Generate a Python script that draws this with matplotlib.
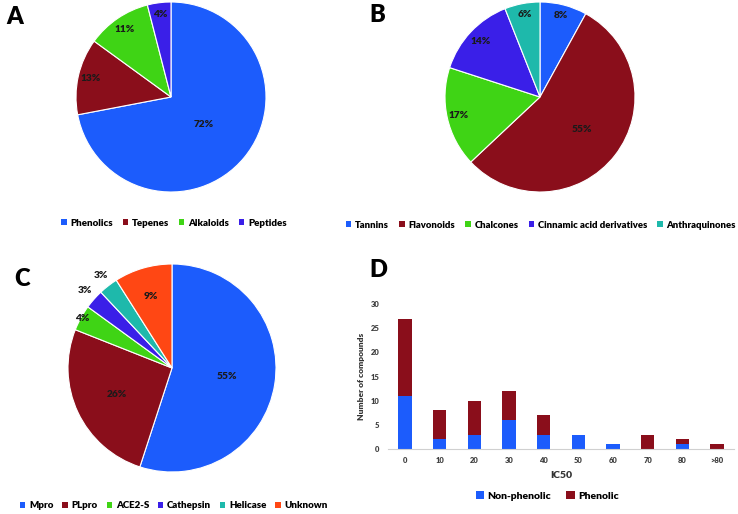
import numpy as np
import matplotlib.pyplot as plt
from matplotlib.patches import Patch

plt.rcParams['font.family'] = ['Lato', 'DejaVu Sans']
WT = 'heavy'

W, H = 738, 514

# colours
BLUE = '#1c5cfc'
RED = '#8a0e1b'
GREEN = '#3fd415'
PURPLE = '#3a1fe8'
TEAL = '#1eb9ab'
ORANGE = '#ff4714'

# panel A
a_labels = ['Phenolics', 'Tepenes', 'Alkaloids', 'Peptides']
a_values = [72, 13, 11, 4]
a_colors = [BLUE, RED, GREEN, PURPLE]
a_dist = [0.45, 0.87, 0.86, 0.88]

# panel B
b_labels = ['Tannins', 'Flavonoids', 'Chalcones', 'Cinnamic acid derivatives', 'Anthraquinones']
b_values = [8, 55, 17, 14, 6]
b_colors = [BLUE, RED, GREEN, PURPLE, TEAL]
b_dist = [0.89, 0.56, 0.88, 0.86, 0.88]

# panel C
c_labels = ['Mpro', 'PLpro', 'ACE2-S', 'Cathepsin', 'Helicase', 'Unknown']
c_values = [55, 26, 4, 3, 3, 9]
c_colors = [BLUE, RED, GREEN, PURPLE, TEAL, ORANGE]
c_dist = [0.53, 0.59, 0.98, 1.12, 1.12, 0.72]

# panel D
d_cats = ['0', '10', '20', '30', '40', '50', '60', '70', '80', '>80']
d_nonphen = [11, 2, 3, 6, 3, 3, 1, 0, 1, 0]
d_phen = [16, 6, 7, 6, 4, 0, 0, 3, 1, 1]

fig = plt.figure(figsize=(W / 100, H / 100), dpi=100)


def px_axes(cx, cy, r):
    return fig.add_axes([(cx - r) / W, 1 - (cy + r) / H, 2 * r / W, 2 * r / H])


def draw_pie(cx, cy, r, values, colors, dists):
    ax = px_axes(cx, cy, r)
    wedges, _ = ax.pie(values, colors=colors, startangle=90, counterclock=False,
                       wedgeprops=dict(edgecolor='white', linewidth=0.8))
    for w, v, d in zip(wedges, values, dists):
        ang = np.deg2rad((w.theta1 + w.theta2) / 2)
        ax.text(d * np.cos(ang), d * np.sin(ang), f'{v}%', ha='center', va='center',
                fontsize=7.3, fontweight=WT, color='#1a1a1a')
    ax.set_xlim(-1, 1)
    ax.set_ylim(-1, 1)
    return wedges


def legend(labels, colors, x, y, size=0.55, spacing=1.6, fs=7):
    handles = [Patch(facecolor=c) for c in colors]
    fig.legend(handles, labels, loc='center', bbox_to_anchor=(x / W, 1 - y / H),
               ncol=len(labels), frameon=False, handlelength=size, handleheight=size,
               handletextpad=0.4, columnspacing=spacing,
               prop=dict(size=fs, weight=WT))


draw_pie(171, 97, 95, a_values, a_colors, a_dist)
legend(a_labels, a_colors, 174, 223, spacing=1.0)

draw_pie(540, 97, 95, b_values, b_colors, b_dist)
legend(b_labels, b_colors, 541, 225, spacing=1.1, fs=6.8)

draw_pie(172, 368, 104, c_values, c_colors, c_dist)
legend(c_labels, c_colors, 174, 506, spacing=0.9)

# bar chart D
ax = fig.add_axes([387.7 / W, 1 - 449 / H, 346.7 / W, 145 / H])
x = np.arange(len(d_cats))
ax.bar(x, d_nonphen, width=0.38, color=BLUE, label='Non-phenolic')
ax.bar(x, d_phen, width=0.38, bottom=d_nonphen, color=RED, label='Phenolic')
ax.set_xlim(-0.5, 9.5)
ax.set_ylim(0, 30)
ax.set_yticks(range(0, 31, 5))
ax.set_xticks(x, d_cats)
for s in ['top', 'right', 'left']:
    ax.spines[s].set_visible(False)
ax.spines['bottom'].set_color('#d0d0d0')
ax.tick_params(length=0, labelsize=5.5, colors='#404040', pad=6)
for t in ax.get_xticklabels() + ax.get_yticklabels():
    t.set_fontweight(WT)
ax.set_xlabel('IC50', fontsize=7.5, fontweight=WT, color='#333333', labelpad=5)
ax.set_ylabel('Number of compounds', fontsize=6, fontweight=WT, color='#333333', labelpad=4)
ax.legend(loc='center', bbox_to_anchor=((547 - 387.7) / 346.7, (449 - 496) / 145),
          ncol=2, frameon=False, handlelength=0.8, handleheight=0.8, handletextpad=0.3,
          columnspacing=1.5, prop=dict(size=7.5, weight=WT))

# panel letters
for letter, (lx, ly) in {'A': (15, 17), 'B': (377, 15), 'C': (22, 279), 'D': (378, 270)}.items():
    fig.text(lx / W, 1 - ly / H, letter, fontsize=17, fontweight=WT, ha='center', va='center')

fig.savefig('out.png', dpi=100)
